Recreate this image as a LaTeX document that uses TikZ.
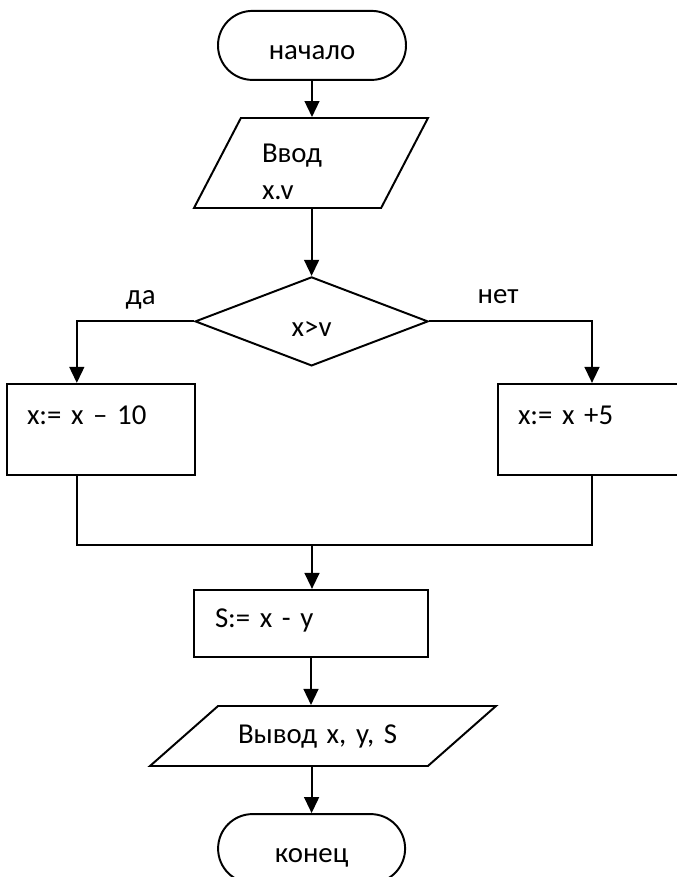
\documentclass[tikz,border=0pt]{standalone}
\usepackage{fontspec}
\setmainfont{Carlito}[WordSpace=0.8]
\usetikzlibrary{shapes.geometric, arrows.meta}

\begin{document}
\begin{tikzpicture}[
        font=\fontsize{20.5}{24}\selectfont,
        line width=1.4pt,
        arr/.style={-{Triangle[length=0.4cm, width=0.37cm]}},
        term/.style={draw, rounded corners=0.86cm, minimum width=4.7cm, minimum height=1.725cm, text height=20.6pt, text depth=0pt},
        opbox/.style={draw, rectangle, minimum width=4.7cm, minimum height=2.275cm, text width=3.7cm, align=left, text height=4pt, text depth=10.4pt},
        io/.style={draw, trapezium, trapezium stretches body, inner sep=0pt, align=left}
    ]
        \useasboundingbox (0, 0) rectangle (16.925, 21.925);
        \clip (0, 0) rectangle (16.925, 21.925);

        \node[term] (nachalo) at (7.8, 20.79) {начало};

        \node[io, trapezium left angle=62.4, trapezium right angle=117.6, minimum width=5.85cm, minimum height=2.25cm,
            text width=2.45cm, text height=31.9pt, text depth=31.9pt, font=\fontsize{20.5}{26.2}\selectfont]
            (vvod) at (7.775, 17.85) {Ввод\\x.v};

        \node[draw, diamond, aspect=2.6, inner sep=0pt, minimum width=5.825cm, minimum height=2.225cm,
            text height=22pt, text depth=0pt] (usl) at (7.79, 13.89) {x>v};

        \node[anchor=base west] (da) at (3.0, 14.3) {да};
        \node[anchor=base west] (net) at (11.8, 14.325) {нет};

        \node[opbox] (minus) at (2.525, 11.19) {x:= x – 10};
        \node[opbox] (plus) at (14.8, 11.19) {x:= x +5};

        \coordinate (m) at (7.8, 8.3);

        \node[draw, rectangle, minimum width=5.85cm, minimum height=1.675cm, text width=4.8cm, align=left,
            text height=12pt, text depth=5.6pt] (raz) at (7.775, 6.34) {S:= x - y};

        \node[io, trapezium left angle=41.4, trapezium right angle=138.6, minimum width=8.65cm, minimum height=1.5cm,
            text width=4.25cm, text height=26.35pt, text depth=16.35pt] (vyvod) at (8.075, 3.525) {Вывод x, y, S};

        \node[term, minimum width=4.675cm, text height=19.2pt] (konec) at (7.79, 0.71) {конец};

        %%%

        \draw[arr] (nachalo.south) -- (nachalo.south |- vvod.north);
        \draw[arr] (usl.north |- vvod.south) -- (usl.north);

        \draw[arr] (usl.west) -| ([xshift=1.77cm]minus.north west);
        \draw[arr] (usl.east) -| (plus.north);

        \draw ([xshift=1.77cm]minus.south west) |- (m) -| (plus.south);
        \draw[arr] (m) -- (m |- raz.north);

        \draw[arr] (raz.south) -- (raz.south |- vyvod.north);
        \draw[arr] (konec.north |- vyvod.south) -- (konec.north);
    \end{tikzpicture}
\end{document}
